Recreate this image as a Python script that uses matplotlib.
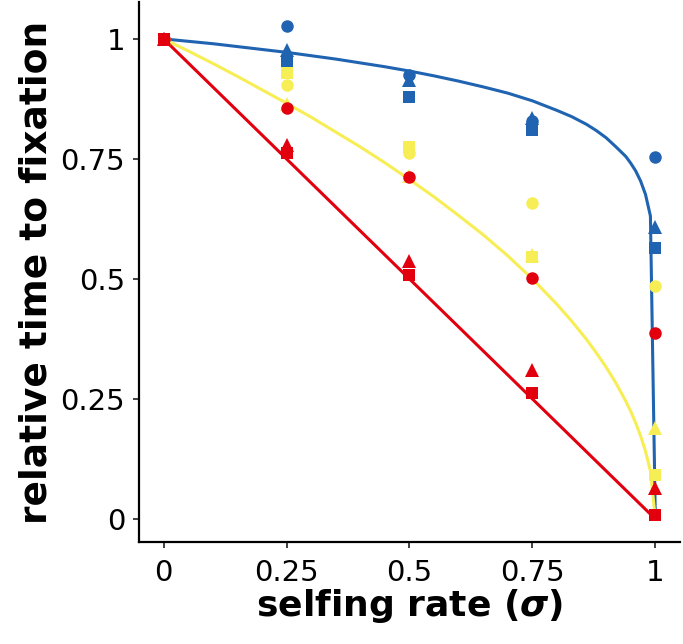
import matplotlib
matplotlib.use('Agg')
import matplotlib.pyplot as plt

plt.rcParams['font.family'] = ['DejaVu Sans']
plt.rcParams['mathtext.fontset'] = 'custom'
plt.rcParams['mathtext.it'] = 'DejaVu Sans:italic:bold'
plt.rcParams['mathtext.rm'] = 'DejaVu Sans:bold'

BLUE = '#1F63B1'
YELLOW = '#F7EE55'
RED = '#E2000F'

# selfing rates where simulations were run
sigma = [0, 0.25, 0.5, 0.75, 1]

# simulated relative time to fixation (colour x shape)
blue_circle = [1.0, 1.026, 0.925, 0.83, 0.754]
blue_triangle = [1.0, 0.977, 0.915, 0.835, 0.609]
blue_square = [1.0, 0.95, 0.88, 0.81, 0.565]
yellow_circle = [1.0, 0.904, 0.762, 0.659, 0.486]
yellow_triangle = [1.0, 0.865, 0.715, 0.55, 0.19]
yellow_square = [1.0, 0.929, 0.775, 0.545, 0.092]
red_circle = [1.0, 0.856, 0.713, 0.502, 0.387]
red_triangle = [1.0, 0.779, 0.538, 0.31, 0.065]
red_square = [1.0, 0.762, 0.508, 0.2625, 0.008]

# theory curves
curve_x = [0, 0.05, 0.1, 0.15, 0.2, 0.25, 0.3, 0.35, 0.4, 0.45, 0.5, 0.55, 0.6, 0.65,
           0.7, 0.75, 0.8, 0.83, 0.86, 0.88, 0.9, 0.92, 0.94, 0.95, 0.96, 0.97, 0.98, 0.99, 1.0]
blue_y = [1, 0.995, 0.99, 0.984, 0.978, 0.972, 0.965, 0.958, 0.95, 0.942, 0.933, 0.923,
          0.912, 0.9, 0.887, 0.871, 0.851, 0.838, 0.822, 0.809, 0.794, 0.775, 0.755, 0.741,
          0.725, 0.704, 0.676, 0.631, 0]
yellow_y = [1, 0.975, 0.949, 0.922, 0.894, 0.866, 0.837, 0.806, 0.775, 0.742, 0.707, 0.671,
            0.632, 0.592, 0.548, 0.5, 0.447, 0.412, 0.374, 0.346, 0.316, 0.283, 0.245, 0.224,
            0.2, 0.173, 0.141, 0.1, 0]
red_x = [0, 1]
red_y = [1, 0]

ticks = [0, 0.25, 0.5, 0.75, 1]
tick_labels = ['0', '0.25', '0.5', '0.75', '1']

fig = plt.figure(figsize=(6.83, 6.44), dpi=100)
ax = fig.add_axes([0.2035, 0.1584, 0.792, 0.8386])

lw = 2.2
ax.plot(curve_x, blue_y, color=BLUE, lw=lw, zorder=2)
ax.plot(curve_x, yellow_y, color=YELLOW, lw=lw, zorder=2)
ax.plot(red_x, red_y, color=RED, lw=lw, zorder=2)

series = [
    (blue_circle, BLUE, 'o'), (blue_triangle, BLUE, '^'), (blue_square, BLUE, 's'),
    (yellow_circle, YELLOW, 'o'), (yellow_triangle, YELLOW, '^'), (yellow_square, YELLOW, 's'),
    (red_circle, RED, 'o'), (red_triangle, RED, '^'), (red_square, RED, 's'),
]
sizes = {'o': 9, '^': 10, 's': 8.5}
for vals, col, mk in series:
    ax.plot(sigma, vals, linestyle='none', marker=mk, color=col,
            markersize=sizes[mk], markeredgewidth=0, zorder=3)

ax.set_xlim(-0.05, 1.05)
ax.set_ylim(-0.048, 1.077)
ax.set_xticks(ticks)
ax.set_xticklabels(tick_labels)
ax.set_yticks(ticks)
ax.set_yticklabels(tick_labels)
ax.tick_params(labelsize=21, length=4, width=1.3, color='#333333')
ax.tick_params(axis='x', pad=8)
ax.tick_params(axis='y', pad=6)

for s in ['top', 'right']:
    ax.spines[s].set_visible(False)
for s in ['left', 'bottom']:
    ax.spines[s].set_linewidth(1.6)

ax.set_xlabel(r'selfing rate ($\sigma$)', fontsize=26, fontweight='bold', labelpad=0)
ax.set_ylabel('relative time to fixation', fontsize=27, fontweight='bold', labelpad=4)

fig.savefig('out.png', dpi=100)
